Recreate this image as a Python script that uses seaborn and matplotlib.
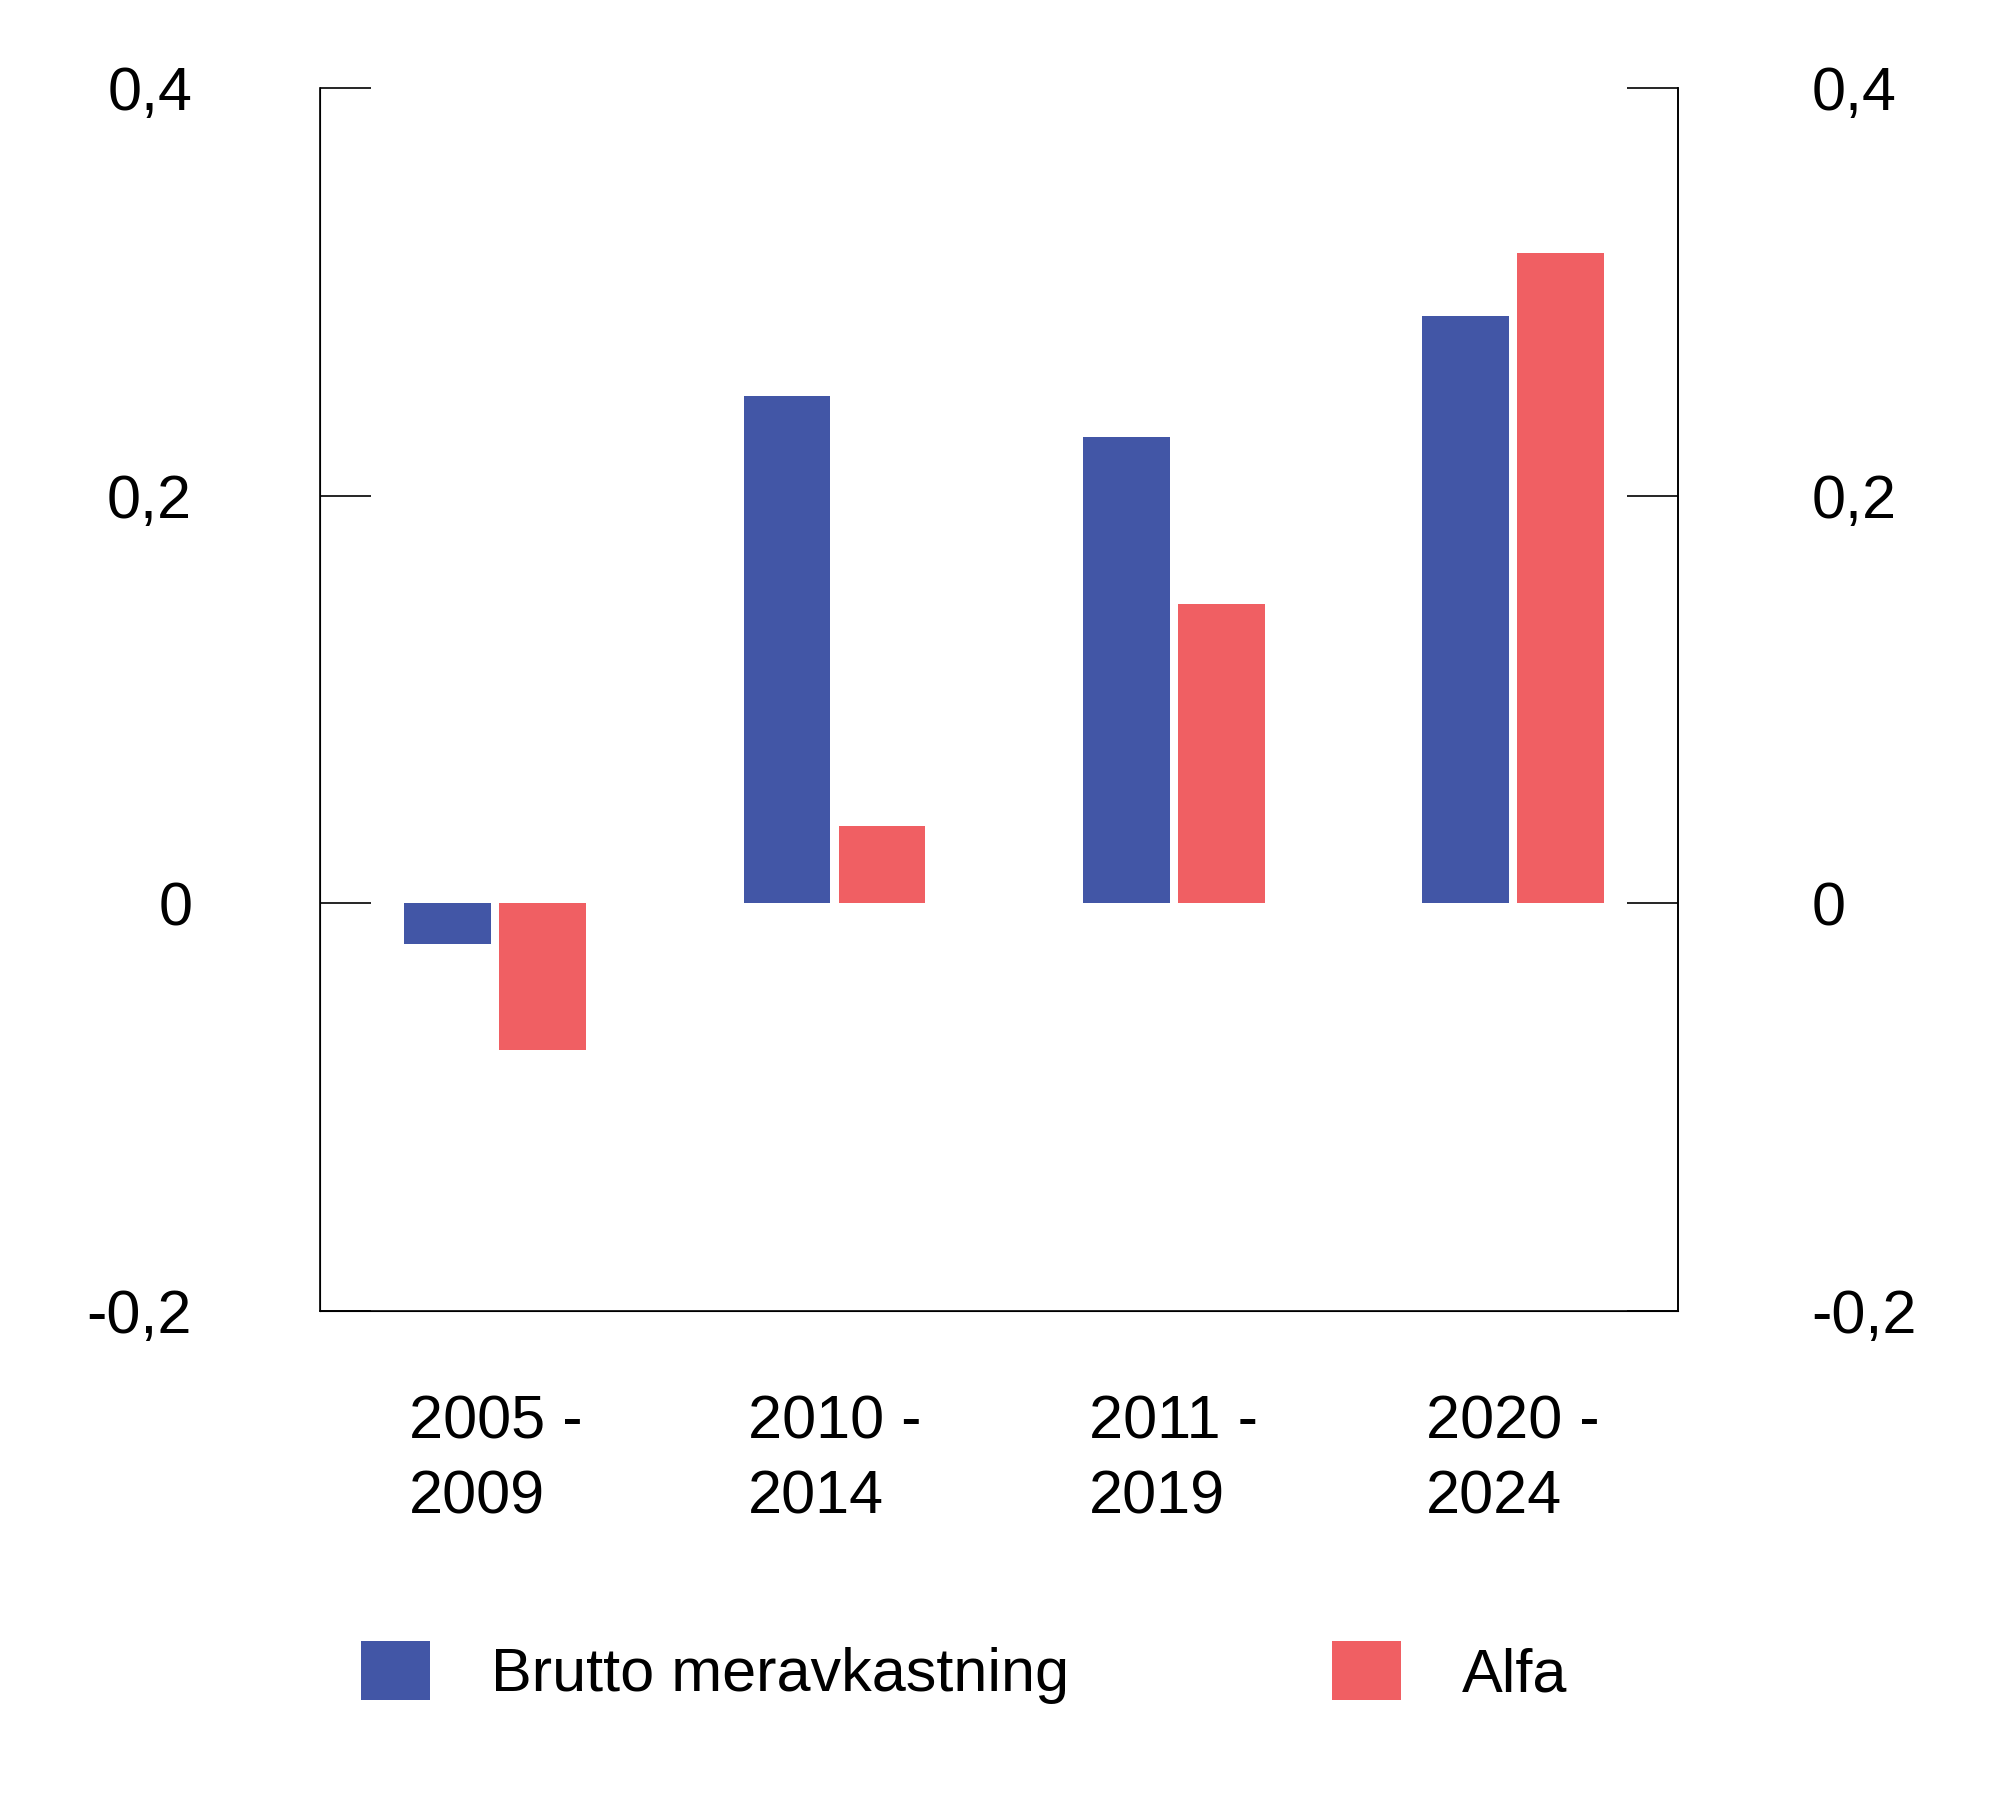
import matplotlib
matplotlib.use("Agg")
import matplotlib.pyplot as plt
import seaborn as sns
import pandas as pd

periods = ["2005 -\n2009", "2010 -\n2014", "2011 -\n2019", "2020 -\n2024"]
brutto = [-0.020, 0.249, 0.229, 0.288]
alfa = [-0.072, 0.038, 0.147, 0.319]
series_names = ["Brutto meravkastning", "Alfa"]
colors = ["#4256A6", "#F05F63"]
yticks = [-0.2, 0, 0.2, 0.4]
ytick_labels = ["-0,2", "0", "0,2", "0,4"]

df = pd.DataFrame({
    "period": periods * 2,
    "serie": [series_names[0]] * 4 + [series_names[1]] * 4,
    "value": brutto + alfa,
})

plt.rcParams["font.family"] = "Liberation Sans"
fig = plt.figure(figsize=(20, 18.16), dpi=100)
ax = fig.add_axes([0.160, 0.278, 0.679, 0.6735])

sns.barplot(data=df, x="period", y="value", hue="serie", palette=colors,
            width=0.56, gap=0.086, saturation=1, ax=ax, legend=True)

ax.set_xlim(-0.517, 3.487)
ax.set_ylim(-0.2, 0.4)
ax.set_yticks(yticks)
ax.set_yticklabels(ytick_labels)
ax.set_xlabel("")
ax.set_ylabel("")
for s in ["top"]:
    ax.spines[s].set_visible(False)
for s in ["left", "right", "bottom"]:
    ax.spines[s].set_linewidth(1.2)
ax.tick_params(axis="y", direction="in", length=37, width=1.2, pad=92, labelsize=44)
ax.tick_params(axis="x", length=0, pad=60, labelsize=44)
for lbl in ax.get_xticklabels():
    lbl.set_multialignment("left")
    lbl.set_linespacing(1.4)

ax2 = ax.twinx()
ax2.set_ylim(-0.2, 0.4)
ax2.set_yticks(yticks)
ax2.set_yticklabels(ytick_labels)
ax2.spines["top"].set_visible(False)
ax2.spines["right"].set_linewidth(1.2)
ax2.tick_params(axis="y", direction="in", length=37, width=1.2, pad=96, labelsize=44)

handles, labels = ax.get_legend_handles_labels()
ax.get_legend().remove()
fig.legend(handles, labels, loc="center left", bbox_to_anchor=(0.165, 0.079),
           ncol=2, frameon=False, fontsize=44, handlelength=1.13, handleheight=1.1,
           handletextpad=1.0, columnspacing=4.3, borderpad=0)

fig.savefig("out.png", dpi=100)
